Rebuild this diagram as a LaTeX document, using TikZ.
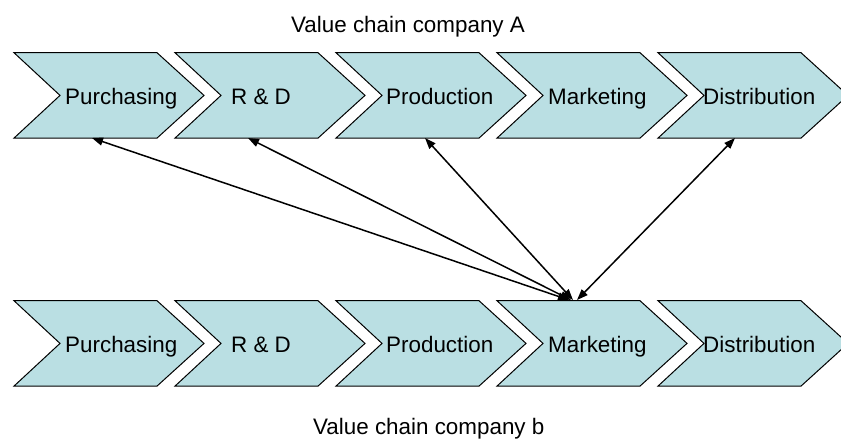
\documentclass[tikz,border=0pt]{standalone}
\usepackage{fontspec}
\setmainfont{Liberation Sans}
\usetikzlibrary{arrows.meta}
\definecolor{chevfill}{RGB}{186,223,227}
\tikzset{
  chev/.style={draw=black, line width=1pt, fill=chevfill, line join=miter},
  lbl/.style={anchor=base west, inner sep=0pt, font=\fontsize{22.4}{26}\selectfont},
  ttl/.style={anchor=base west, inner sep=0pt, font=\fontsize{22.4}{26}\selectfont},
  link/.style={line width=1.5pt, {Triangle[length=11pt,width=8pt]}-{Triangle[length=11pt,width=8pt]}}
}
\newcommand{\chevshape}[2]{%
  \path[chev] (#1,#2) -- ++(143,0) -- ++(47,42.7) -- ++(-47,42.7) -- ++(-143,0) -- ++(46,-42.7) -- cycle;}
\begin{document}
\begin{tikzpicture}[x=1pt,y=-1pt]
\useasboundingbox (0,0) rectangle (841,440);
% top row
\foreach \x in {14,175,336,497,658}{\chevshape{\x}{52.7}}
% bottom row
\foreach \x in {14,175,336,497,658}{\chevshape{\x}{300.7}}
% labels top
\node[lbl] (tP) at (65,104) {Purchasing};
\node[lbl] (tR) at (231,104) {R \& D};
\node[lbl] (tPr) at (386,104) {Production};
\node[lbl] (tM) at (548,104) {Marketing};
\node[lbl] (tD) at (703,104) {Distribution};
% labels bottom
\node[lbl] (bP) at (65,352) {Purchasing};
\node[lbl] (bR) at (231,352) {R \& D};
\node[lbl] (bPr) at (386,352) {Production};
\node[lbl] (bM) at (548,352) {Marketing};
\node[lbl] (bD) at (703,352) {Distribution};
% titles
\node[ttl] (titleA) at (291,32) {Value chain company A};
\node[ttl] (titleB) at (313,434) {Value chain company b};
% connector ends
\coordinate (eP) at (92,138);
\coordinate (eR) at (248,138);
\coordinate (ePr) at (425,138);
\coordinate (eD) at (735,138);
\coordinate (m1) at (569,300);
\coordinate (m2) at (571,300);
\coordinate (m3) at (573,300);
\coordinate (m4) at (577,300);
\draw[link] (eP) -- (m1);
\draw[link] (eR) -- (m2);
\draw[link] (ePr) -- (m3);
\draw[link] (eD) -- (m4);
\end{tikzpicture}
\end{document}
